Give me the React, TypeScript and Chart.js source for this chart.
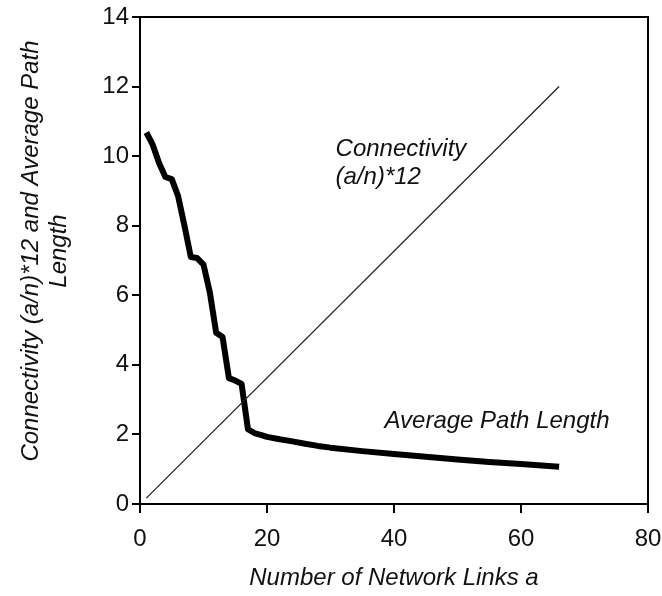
import React, { useEffect, useRef } from "react";
import { Chart, registerables } from "chart.js";

Chart.register(...registerables);

// Average path length curve (x = number of links a, y = average path length)
const pathLinks = [1, 2, 3, 4, 5, 6, 7, 8, 9, 10, 11, 12, 13, 14, 15, 16, 17, 18, 19, 20, 22, 24, 26, 28, 30, 35, 40, 45, 50, 55, 60, 66];
const pathLength = [10.68, 10.33, 9.8, 9.4, 9.34, 8.85, 8.0, 7.1, 7.07, 6.88, 6.08, 4.92, 4.8, 3.62, 3.55, 3.45, 2.15, 2.04, 1.99, 1.93, 1.86, 1.8, 1.73, 1.67, 1.62, 1.52, 1.44, 1.36, 1.28, 1.21, 1.15, 1.07];

// Connectivity (a/n)*12 line endpoints
const connLinks = [1, 66];
const connValues = [0.17, 12];

const xTicks = [0, 20, 40, 60, 80];
const yTicks = [0, 2, 4, 6, 8, 10, 12, 14];

const xTitle = "Number of Network Links a";
const yTitleLines = ["Connectivity (a/n)*12 and Average Path", "Length"];
const connLabel = ["Connectivity", "(a/n)*12"];
const pathLabel = "Average Path Length";

const FONT = "'Liberation Sans', Arial, sans-serif";

export default function App() {
  const ref = useRef<HTMLCanvasElement | null>(null);

  useEffect(() => {
    const canvas = ref.current;
    if (!canvas) return;

    const textPlugin = {
      id: "textPlugin",
      afterDraw(chart: any) {
        const ctx = chart.ctx;
        const area = chart.chartArea;
        const xs = chart.scales.x;
        const ys = chart.scales.y;
        ctx.save();
        // plot border
        ctx.strokeStyle = "#000";
        ctx.lineWidth = 2;
        ctx.strokeRect(area.left, area.top, area.right - area.left, area.bottom - area.top);

        ctx.fillStyle = "#111";
        // x title
        ctx.font = `italic 24px ${FONT}`;
        ctx.textAlign = "center";
        ctx.textBaseline = "middle";
        ctx.fillText(xTitle, (area.left + area.right) / 2, 578);
        // y title
        const cy = 251;
        const lx = [31, 59];
        yTitleLines.forEach((line, i) => {
          ctx.save();
          ctx.translate(lx[i], cy);
          ctx.rotate(-Math.PI / 2);
          ctx.fillText(line, 0, 0);
          ctx.restore();
        });
        // annotations
        ctx.textAlign = "left";
        ctx.fillText(connLabel[0], xs.getPixelForValue(30.8), ys.getPixelForValue(10.2));
        ctx.fillText(connLabel[1], xs.getPixelForValue(30.8), ys.getPixelForValue(9.4));
        ctx.fillText(pathLabel, xs.getPixelForValue(38.5), ys.getPixelForValue(2.37));
        ctx.restore();
      },
    };

    const chart = new Chart(canvas, {
      type: "line",
      data: {
        datasets: [
          {
            label: "Connectivity",
            data: connLinks.map((x, i) => ({ x, y: connValues[i] })),
            borderColor: "#222",
            borderWidth: 1.3,
            pointRadius: 0,
            fill: false,
          },
          {
            label: "Average Path Length",
            data: pathLinks.map((x, i) => ({ x, y: pathLength[i] })),
            borderColor: "#000",
            borderWidth: 6,
            pointRadius: 0,
            fill: false,
            borderJoinStyle: "round",
            tension: 0,
          },
        ],
      },
      options: {
        animation: false,
        responsive: false,
        devicePixelRatio: 1,
        layout: { padding: { left: 0, top: 17, right: 14, bottom: 0 } },
        plugins: { legend: { display: false }, tooltip: { enabled: false } },
        scales: {
          x: {
            type: "linear",
            min: 0,
            max: 80,
            afterFit: (s: any) => {
              s.height = 92;
              s.paddingLeft = 0;
              s.paddingRight = 0;
            },
            afterBuildTicks: (s: any) => {
              s.ticks = xTicks.map((v) => ({ value: v }));
            },
            grid: {
              drawOnChartArea: false,
              drawTicks: true,
              tickLength: 9,
              color: "#000",
              lineWidth: 2,
            },
            border: { display: true, color: "#000", width: 2 },
            ticks: {
              color: "#111",
              font: { family: FONT, size: 24 },
              padding: 12,
              maxRotation: 0,
            },
          },
          y: {
            type: "linear",
            min: 0,
            max: 14,
            afterFit: (s: any) => {
              s.width = 140;
              s.paddingTop = 0;
              s.paddingBottom = 0;
            },
            afterBuildTicks: (s: any) => {
              s.ticks = yTicks.map((v) => ({ value: v }));
            },
            grid: {
              drawOnChartArea: false,
              drawTicks: true,
              tickLength: 8,
              color: "#000",
              lineWidth: 2,
            },
            border: { display: true, color: "#000", width: 2 },
            ticks: {
              color: "#111",
              font: { family: FONT, size: 24 },
              padding: 3,
            },
          },
        },
      },
      plugins: [textPlugin],
    } as any);

    return () => chart.destroy();
  }, []);

  return (
    <div style={{ position: "fixed", left: 0, top: 0, width: 662, height: 596, background: "#fff" }}>
      <canvas ref={ref} width={662} height={596} style={{ width: 662, height: 596 }} />
    </div>
  );
}
